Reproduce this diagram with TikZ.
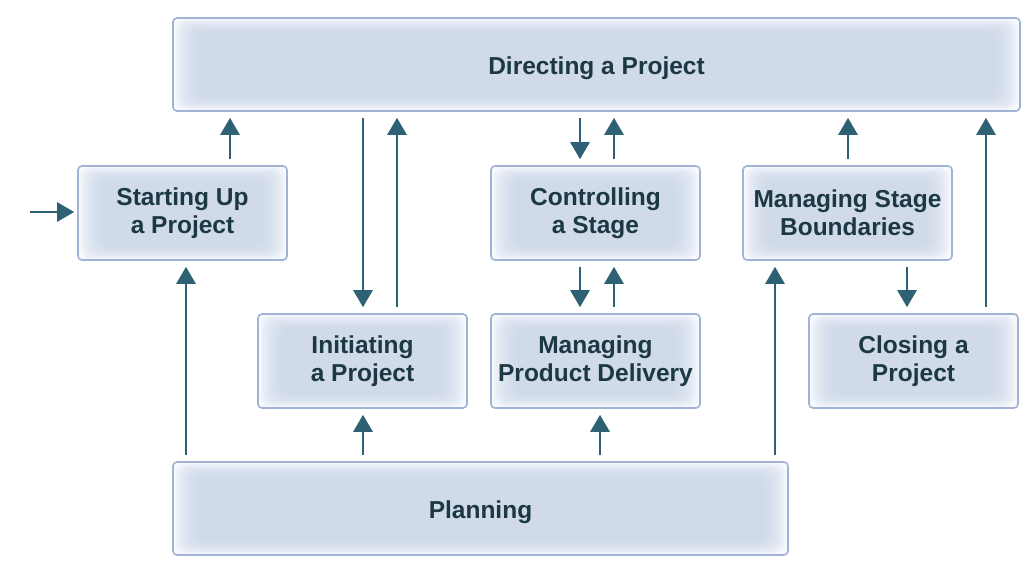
\documentclass[tikz,border=0pt]{standalone}
\usepackage{fontspec}
\setmainfont{Liberation Sans}
\usetikzlibrary{arrows.meta}
\definecolor{boxborder}{RGB}{160,178,213}
\definecolor{boxcenter}{RGB}{204,215,233}
\definecolor{boxedge}{RGB}{248,249,253}
\definecolor{txt}{RGB}{28,56,68}
\definecolor{arrc}{RGB}{46,97,116}
\tikzset{
  pbox/.style={draw=boxborder, line width=1.6pt, rounded corners=4pt, fill=boxedge,
    align=center, text=txt, font=\bfseries\fontsize{24.5}{28}\selectfont, inner sep=0pt,
    path picture={
      \foreach \i in {1,...,10}{
        \fill[boxcenter,opacity=0.17,rounded corners=10pt]
          ([shift={(\i*2.6pt,-\i*1.5pt)}]path picture bounding box.north west)
          rectangle ([shift={(-\i*2.6pt,\i*1.5pt)}]path picture bounding box.south east);
      }
    }},
  small/.style={pbox, minimum width=209pt, minimum height=94pt},
  wide/.style={pbox, minimum height=93pt, text height=21pt, text depth=2pt},
  arr/.style={draw=arrc, line width=2.7pt, -{Triangle[length=17pt,width=19pt]},
    shorten >=6pt, shorten <=6pt}
}
\begin{document}
\begin{tikzpicture}[x=1pt,y=-1pt]
\useasboundingbox (0,0) rectangle (1034,574);
\node[wide, minimum width=847pt] (dir) at (596.5,64.5) {Directing a Project};
\node[small] (start) at (182.5,213) {Starting Up\\a Project};
\node[small] (ctrl) at (595.5,213) {Controlling\\a Stage};
\node[small] (msb) at (847.5,213) {Managing Stage\\Boundaries};
\node[small] (init) at (362.5,361) {Initiating\\a Project};
\node[small] (mpd) at (595.5,361) {Managing\\Product Delivery};
\node[small] (close) at (913.5,361) {Closing a\\Project};
\node[wide, minimum width=615pt] (plan) at (480.5,508.5) {Planning};
\coordinate (entry) at (30,212);
\draw[arr, shorten <=0pt, shorten >=3pt] (entry) -- (entry -| start.west);
\draw[arr] (start.north -| 230,0) -- (dir.south -| 230,0);
\draw[arr] (dir.south -| 363,0) -- (init.north -| 363,0);
\draw[arr] (init.north -| 397,0) -- (dir.south -| 397,0);
\draw[arr] (dir.south -| 580,0) -- (ctrl.north -| 580,0);
\draw[arr] (ctrl.north -| 614,0) -- (dir.south -| 614,0);
\draw[arr] (msb.north -| 848,0) -- (dir.south -| 848,0);
\draw[arr] (close.north -| 986,0) -- (dir.south -| 986,0);
\draw[arr] (ctrl.south -| 580,0) -- (mpd.north -| 580,0);
\draw[arr] (mpd.north -| 614,0) -- (ctrl.south -| 614,0);
\draw[arr] (msb.south -| 907,0) -- (close.north -| 907,0);
\draw[arr] (plan.north -| 186,0) -- (start.south -| 186,0);
\draw[arr] (plan.north -| 363,0) -- (init.south -| 363,0);
\draw[arr] (plan.north -| 600,0) -- (mpd.south -| 600,0);
\draw[arr] (plan.north -| 775,0) -- (msb.south -| 775,0);
\end{tikzpicture}
\end{document}
